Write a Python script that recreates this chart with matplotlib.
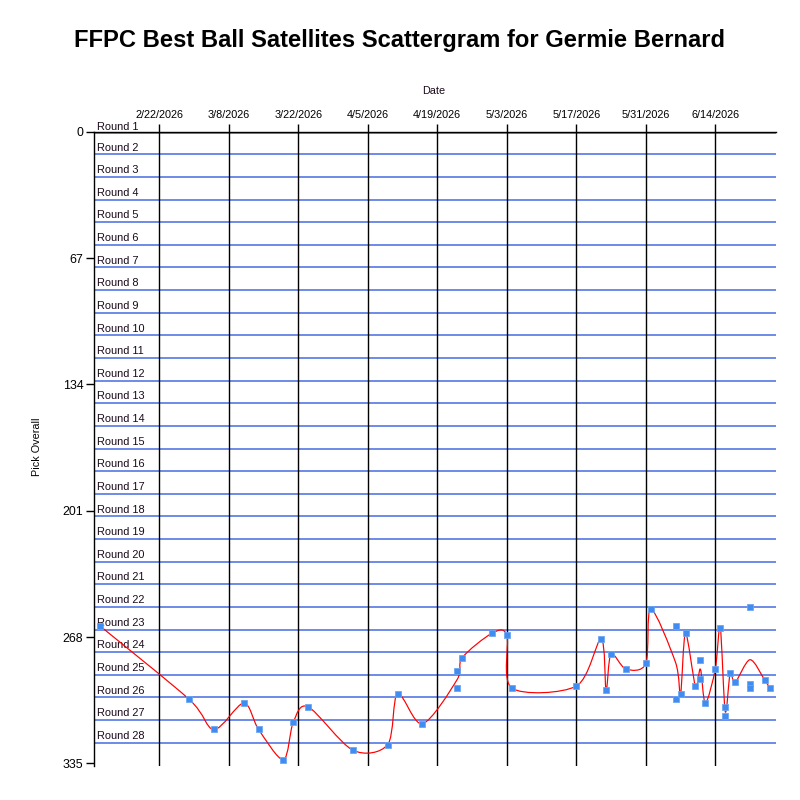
import matplotlib
matplotlib.use("Agg")
import matplotlib.pyplot as plt
import matplotlib.dates as mdates
from matplotlib.path import Path
from matplotlib.patches import PathPatch
from matplotlib.ticker import FuncFormatter
import numpy as np
import pandas as pd

# ---------------- data ----------------
pick_dates = [
    "2026-02-10", "2026-02-28", "2026-03-05", "2026-03-11", "2026-03-14",
    "2026-03-19", "2026-03-21", "2026-03-24", "2026-04-02", "2026-04-09",
    "2026-04-11", "2026-04-16", "2026-04-23", "2026-04-23", "2026-04-24",
    "2026-04-30", "2026-05-03", "2026-05-04", "2026-05-17", "2026-05-22",
    "2026-05-23", "2026-05-24", "2026-05-27", "2026-05-31", "2026-06-01",
    "2026-06-06", "2026-06-06", "2026-06-07", "2026-06-08", "2026-06-10",
    "2026-06-11", "2026-06-11", "2026-06-12", "2026-06-14", "2026-06-15",
    "2026-06-16", "2026-06-16", "2026-06-17", "2026-06-18", "2026-06-21",
    "2026-06-21", "2026-06-21", "2026-06-24", "2026-06-25",
]
pick_overall = [
    262, 301, 317, 303, 317,
    333, 313, 305, 328, 325,
    298, 314, 286, 295, 279,
    266, 267, 295, 294, 269,
    296, 277, 285, 282, 253,
    262, 301, 298, 266, 294,
    280, 290, 303, 285, 263,
    305, 310, 287, 292, 252,
    293, 295, 291, 295,
]
y_ticks = [0, 67, 134, 201, 268, 335]
n_rounds = 28
teams = 12
round_labels = [f"Round {r}" for r in range(1, n_rounds + 1)]
first_tick_date = "2026-02-22"
title = "FFPC Best Ball Satellites Scattergram for Germie Bernard"

# ---------------- styling ----------------
plt.rcParams['font.family'] = ['Liberation Sans', 'DejaVu Sans']
W, H = 800, 800
fig = plt.figure(figsize=(8, 8), dpi=100)
px = 72 / 100.0  # points per pixel

left, right, top, bottom = 94.3, 775.7, 131.7, 765.5
ax = fig.add_axes([left / W, 1 - bottom / H, (right - left) / W, (bottom - top) / H])

dates = pd.to_datetime(pd.Series(pick_dates))
xnum = mdates.date2num(dates.dt.to_pydatetime())
ynum = np.array(pick_overall, dtype=float)

t0 = mdates.date2num(pd.Timestamp(first_tick_date).to_pydatetime())
xmin = t0 - 13.1
xmax = t0 + 112 + 12.17
ax.set_xlim(xmin, xmax)
ax.set_ylim(336.1, 0)

# round boundary lines + labels
for i, lab in enumerate(round_labels):
    yv = max(teams * i, 0.85)
    ax.axhline(yv, color='#4169E1', lw=1.5 * px, zorder=1)
    ax.annotate(lab, xy=(0, yv), xycoords=('axes fraction', 'data'),
                xytext=(2.5 * px, 1.8 * px), textcoords='offset points',
                ha='left', va='bottom', fontsize=7.9, color='#1a0a1a', zorder=3)

# x ticks on top every 14 days
xt = np.arange(t0, xmax, 14)
ax.set_xticks(xt)
ax.xaxis.set_major_formatter(FuncFormatter(
    lambda v, p: (lambda d: f"{d.month}/{d.day}/{d.year}")(mdates.num2date(v))))
ax.xaxis.tick_top()
ax.tick_params(axis='x', which='major', direction='out', length=8 * px, width=1.4 * px,
               pad=3.5 * px, labelsize=7.8, colors='black')
ax.grid(axis='x', color='black', lw=1.4 * px, zorder=1)

ax.set_yticks(y_ticks)
ax.tick_params(axis='y', which='major', direction='out', length=7.6 * px, width=1.4 * px,
               pad=3.5 * px, labelsize=8.9, colors='black')

for s in ['right', 'bottom']:
    ax.spines[s].set_visible(False)
for s in ['left', 'top']:
    ax.spines[s].set_linewidth(1.4 * px)
    ax.spines[s].set_color('black')

# smoothed line through per-date mean (cardinal spline)
mean = pd.DataFrame({'x': xnum, 'y': ynum}).groupby('x', sort=True)['y'].mean()
P = np.column_stack([mean.index.values, mean.values])
tens = 0.5 * 0.3
n = len(P)
verts = [tuple(P[0])]
codes = [Path.MOVETO]
for i in range(n - 1):
    p0 = P[i - 1] if i > 0 else P[i]
    p1 = P[i]
    p2 = P[i + 1]
    p3 = P[i + 2] if i + 2 < n else P[i + 1]
    c1 = p1 + tens * (p2 - p0)
    c2 = p2 - tens * (p3 - p1)
    verts += [tuple(c1), tuple(c2), tuple(p2)]
    codes += [Path.CURVE4, Path.CURVE4, Path.CURVE4]
ax.add_patch(PathPatch(Path(verts, codes), facecolor='none', edgecolor='red',
                       lw=1.2 * px, zorder=4))

ax.plot(xnum, ynum, linestyle='none', marker='s', markersize=5.5 * px,
        markerfacecolor='#418CF0', markeredgecolor='#6aa6f3', markeredgewidth=0.8 * px,
        zorder=5)

fig.text(400 / W, 1 - 40 / H, title, ha='center', va='center', fontsize=17.1,
         fontweight='bold', color='black')
fig.text(434 / W, 1 - 91 / H, 'Date', ha='center', va='center', fontsize=7.8, color='#1a0a1a')
fig.text(36.7 / W, 1 - 447 / H, 'Pick Overall', ha='center', va='center', rotation=90,
         fontsize=7.8, color='black')

fig.savefig('out.png', dpi=100, facecolor='white')
